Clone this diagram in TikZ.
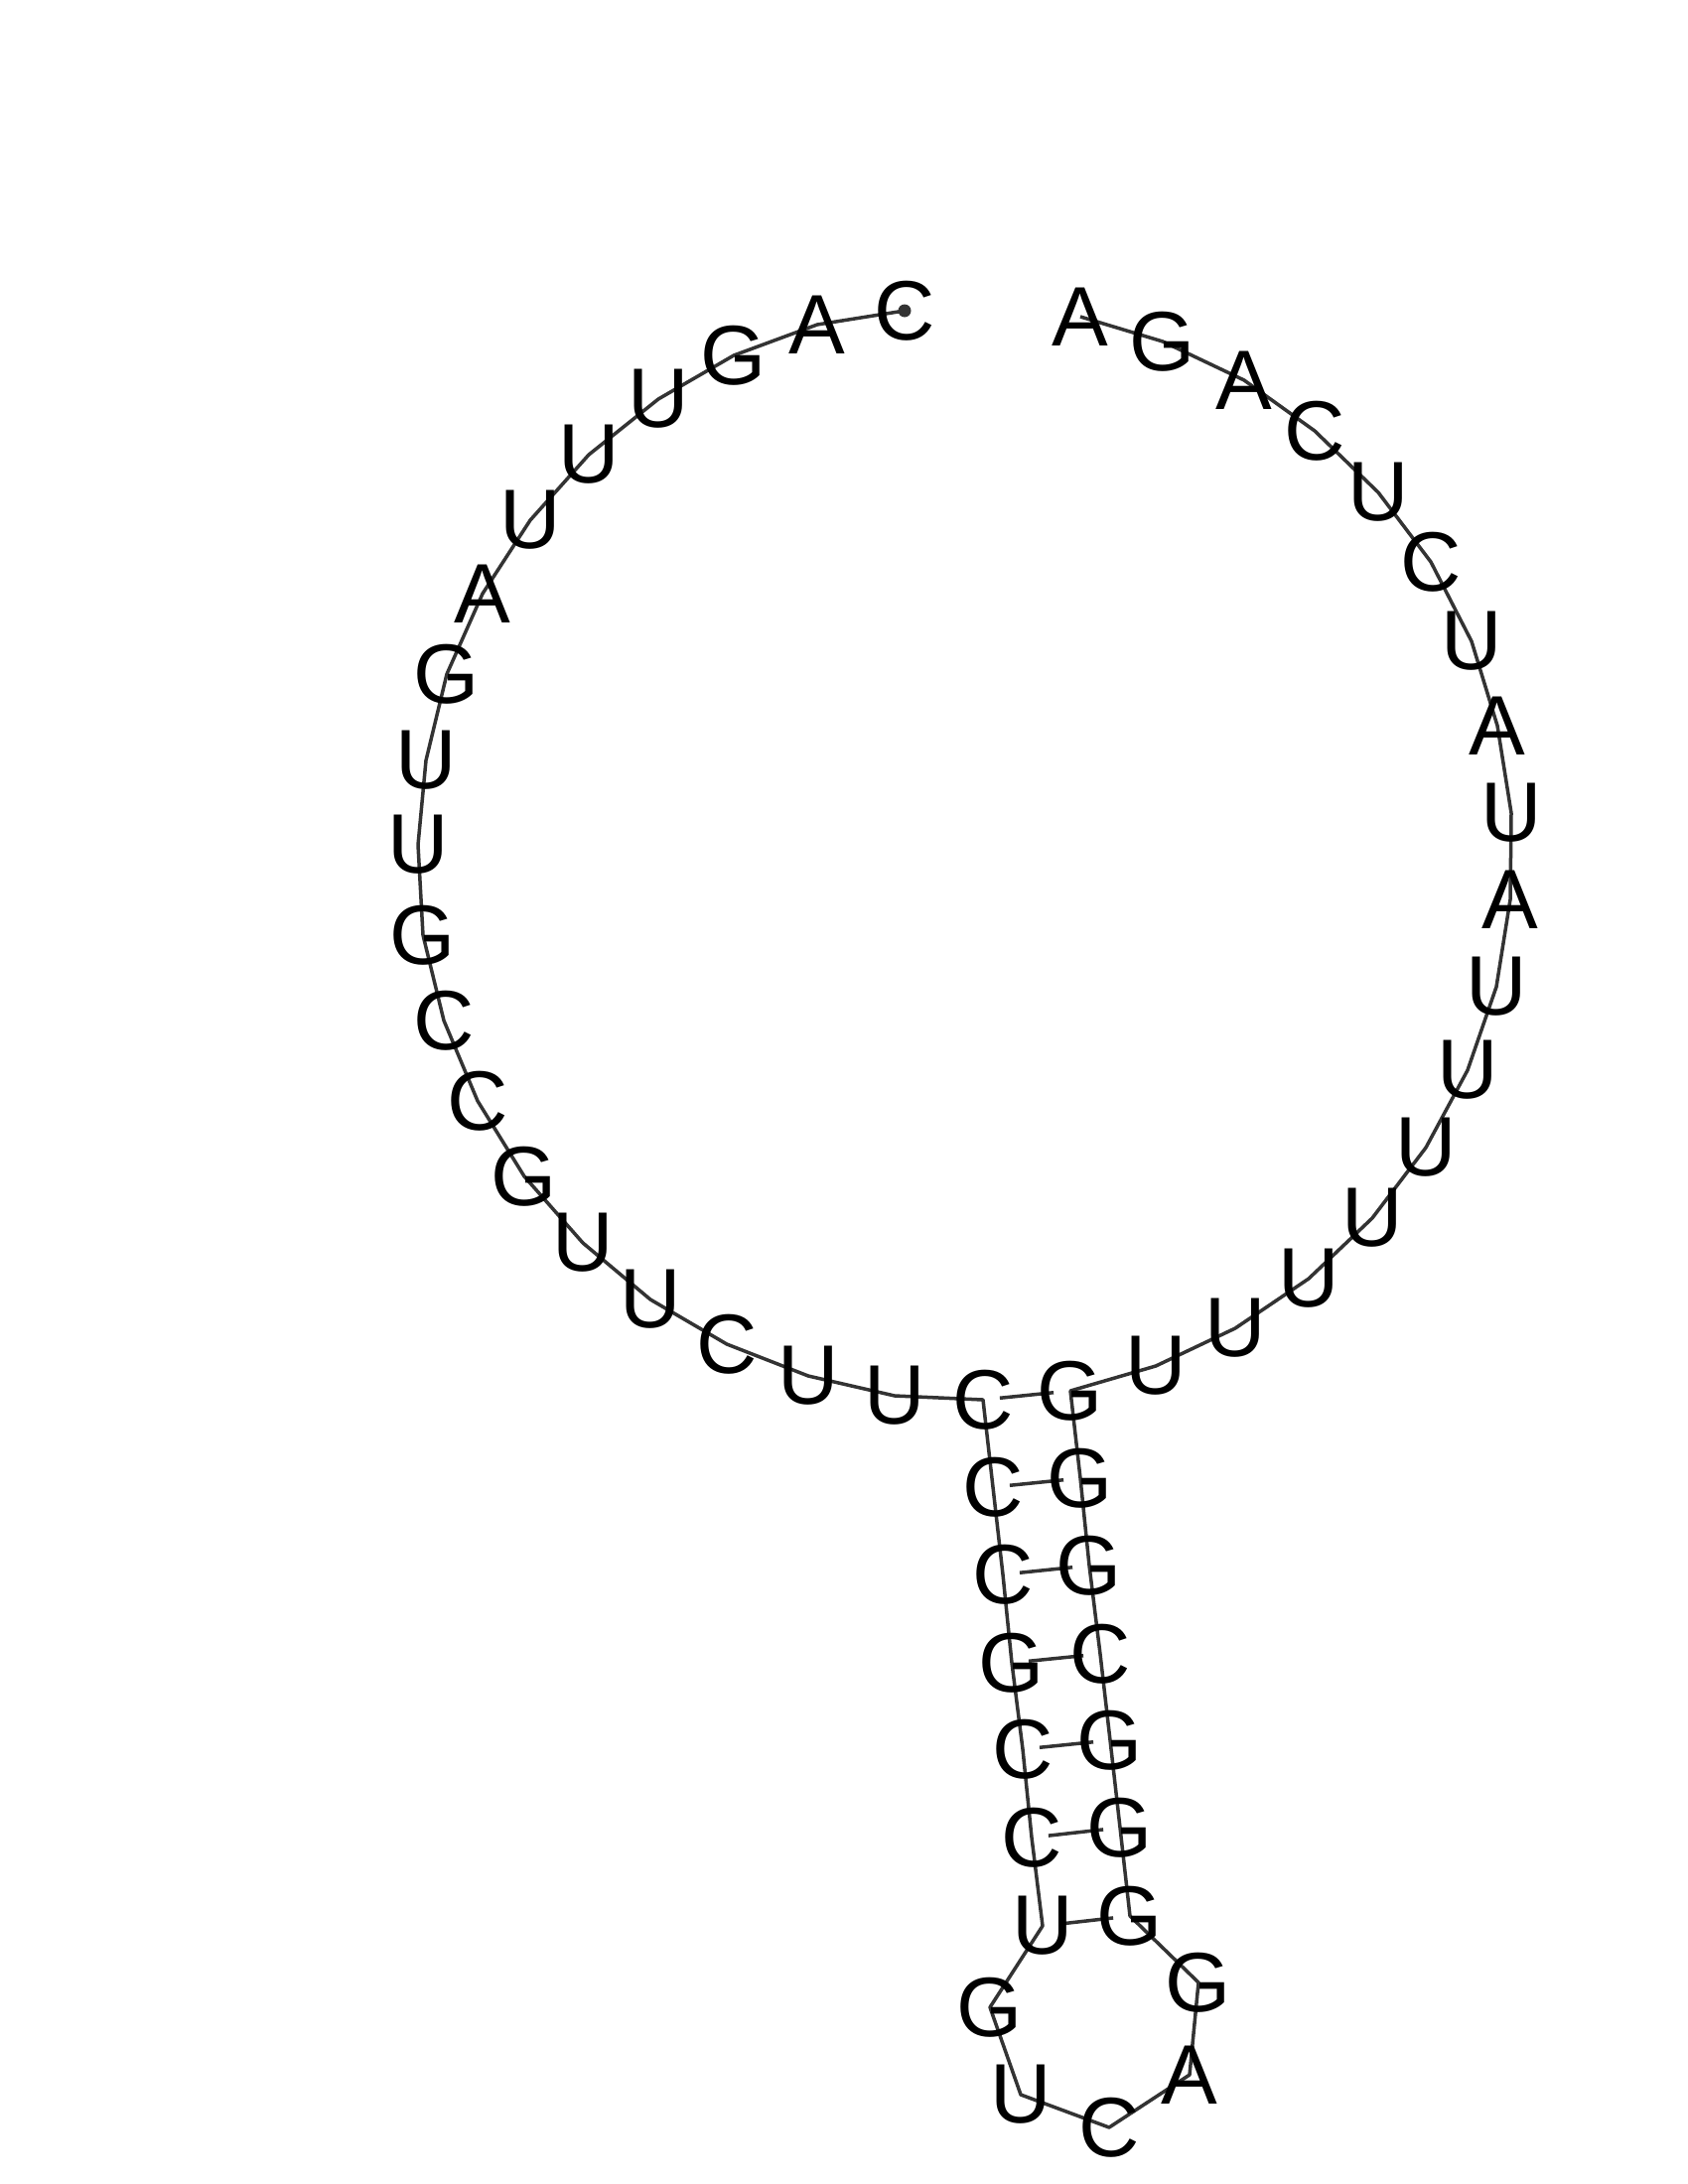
\documentclass[tikz,border=0pt]{standalone}
\usepackage{fontspec}
\setmainfont{Liberation Sans}
\begin{document}
\begin{tikzpicture}[x=0.5pt,y=-0.5pt,
  nt/.style={inner sep=0pt, text=black, font=\fontsize{42.5}{42.5}\selectfont},
  bb/.style={draw=black!80, line width=1.75pt, line join=round},
  bp/.style={draw=black!80, line width=1.75pt, shorten <=8.5pt, shorten >=8.5pt}]
\useasboundingbox (0,0) rectangle (1700,2200);
\def\seqdata{1/911/313/C, 2/823/327/A, 3/739/358/G, 4/663/402/U, 5/593/458/U,
 6/534/524/U, 7/486/598/A, 8/450/679/G, 9/429/766/U, 10/421/851/U,
 11/426/942/G, 12/447/1028/C, 13/481/1109/C, 14/528/1185/G, 15/587/1252/U,
 16/655/1309/U, 17/732/1354/C, 18/814/1386/U, 19/901/1406/U, 20/990/1410/C,
 21/1000/1498/C, 22/1010/1586/C, 23/1019/1675/G, 24/1030/1762/C, 25/1039/1851/C,
 26/1050/1940/U, 27/997/2022/G, 28/1028/2110/U, 29/1117/2143/C, 30/1198/2090/A,
 31/1207/1997/G, 32/1138/1930/G, 33/1128/1841/G, 34/1118/1753/G, 35/1108/1666/C,
 36/1097/1577/G, 37/1088/1489/G, 38/1078/1401/G, 39/1164/1376/U, 40/1244/1338/U,
 41/1318/1288/U, 42/1382/1227/U, 43/1436/1156/U, 44/1478/1078/U, 45/1507/994/U,
 46/1521/906/A, 47/1522/819/U, 48/1508/731/A, 49/1482/646/U, 50/1441/566/C,
 51/1388/496/U, 52/1324/434/C, 53/1253/383/A, 54/1171/344/G, 55/1088/319/A}
\foreach \i/\x/\y/\b in \seqdata { \coordinate (p\i) at (\x,\y); }
% backbone
\draw[bb] (p1) \foreach \i in {2,...,55} { -- (p\i) };
% base pairs
\foreach \a/\c in {20/38,21/37,22/36,23/35,24/34,25/33,26/32}
  { \draw[bp] (p\a) -- (p\c); }
% 5' marker
\fill[black!80] (p1) circle (3.25pt);
% letters
\foreach \i/\x/\y/\b in \seqdata { \node[nt] (n\i) at (p\i) {\b}; }
\end{tikzpicture}
\end{document}
